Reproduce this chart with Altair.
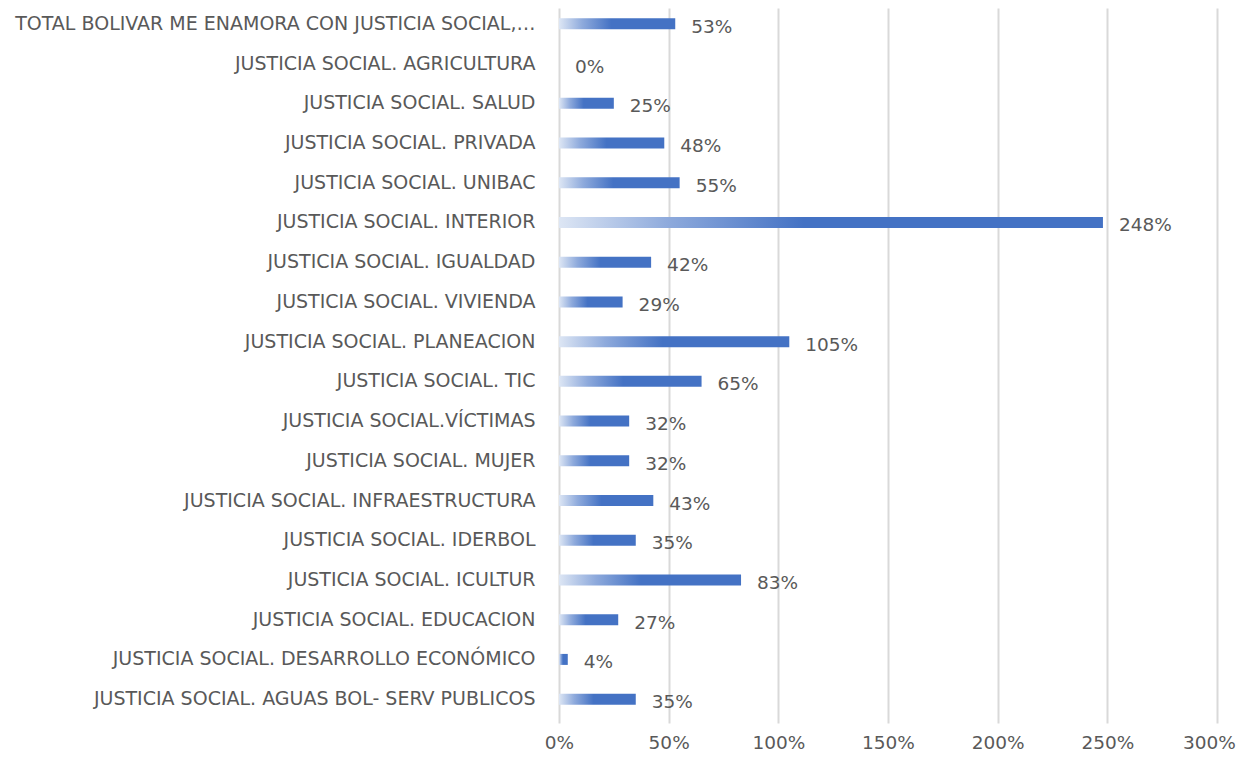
import altair as alt
import pandas as pd

categories = [
    "TOTAL  BOLIVAR ME ENAMORA CON JUSTICIA SOCIAL,…",
    "JUSTICIA SOCIAL. AGRICULTURA",
    "JUSTICIA SOCIAL. SALUD",
    "JUSTICIA SOCIAL. PRIVADA",
    "JUSTICIA SOCIAL. UNIBAC",
    "JUSTICIA SOCIAL. INTERIOR",
    "JUSTICIA SOCIAL. IGUALDAD",
    "JUSTICIA SOCIAL. VIVIENDA",
    "JUSTICIA SOCIAL. PLANEACION",
    "JUSTICIA SOCIAL. TIC",
    "JUSTICIA SOCIAL.VÍCTIMAS",
    "JUSTICIA SOCIAL. MUJER",
    "JUSTICIA SOCIAL. INFRAESTRUCTURA",
    "JUSTICIA SOCIAL. IDERBOL",
    "JUSTICIA SOCIAL. ICULTUR",
    "JUSTICIA SOCIAL. EDUCACION",
    "JUSTICIA SOCIAL. DESARROLLO ECONÓMICO",
    "JUSTICIA SOCIAL. AGUAS BOL- SERV PUBLICOS",
]
values = [53, 0, 25, 48, 55, 248, 42, 29, 105, 65, 32, 32, 43, 35, 83, 27, 4, 35]
x_ticks = [0, 0.5, 1.0, 1.5, 2.0, 2.5, 3.0]

df = pd.DataFrame({"cat": categories, "val": [v / 100 for v in values]})

FONT = "DejaVu Sans"
FS_CAT = 19
FS = 18.5
TXT = "#595959"

y_enc = alt.Y("cat:N", sort=categories, title=None,
              scale=alt.Scale(paddingInner=0, paddingOuter=0, range=[-4, 711]),
              axis=alt.Axis(labelFontSize=FS_CAT, labelColor=TXT, labelFont=FONT,
                            labelPadding=24, ticks=False, domain=False,
                            labelLimit=600, grid=False))
x_enc = alt.X("val:Q", title=None,
              scale=alt.Scale(domain=[0, 3], nice=False),
              axis=alt.Axis(values=x_ticks, format=".0%", labelFontSize=FS,
                            labelColor=TXT, labelFont=FONT, labelPadding=14,
                            labelFlush=False,
                            labelOffset={"condition": {"test": "datum.value >= 2.99", "value": -8},
                                         "value": 0},
                            ticks=False, domain=False, grid=True,
                            gridColor="#d9d9d9", gridWidth=2))

grad = alt.Gradient(
    gradient="linear",
    x1=0, x2=1, y1=0, y2=0,
    stops=[
        alt.GradientStop(color="#dde6f4", offset=0),
        alt.GradientStop(color="#8eaadc", offset=0.2),
        alt.GradientStop(color="#4472c4", offset=0.45),
        alt.GradientStop(color="#4472c4", offset=1),
    ],
)

bars = alt.Chart(df).mark_bar(color=grad, size=11).encode(y=y_enc, x=x_enc)
labels = alt.Chart(df).mark_text(align="left", dx=16, dy=3, fontSize=FS,
                                 font=FONT, color=TXT).encode(
    y=alt.Y("cat:N", sort=categories),
    x=alt.X("val:Q"),
    text=alt.Text("val:Q", format=".0%"),
)

chart = (bars + labels).properties(
    width=658, height=711,
    padding={"left": 551, "top": 0, "right": 21, "bottom": 32},
    autosize=alt.AutoSizeParams(type="none"),
).configure_view(stroke=None)

chart.save("out.html", embed_options={"renderer": "svg", "actions": False})
